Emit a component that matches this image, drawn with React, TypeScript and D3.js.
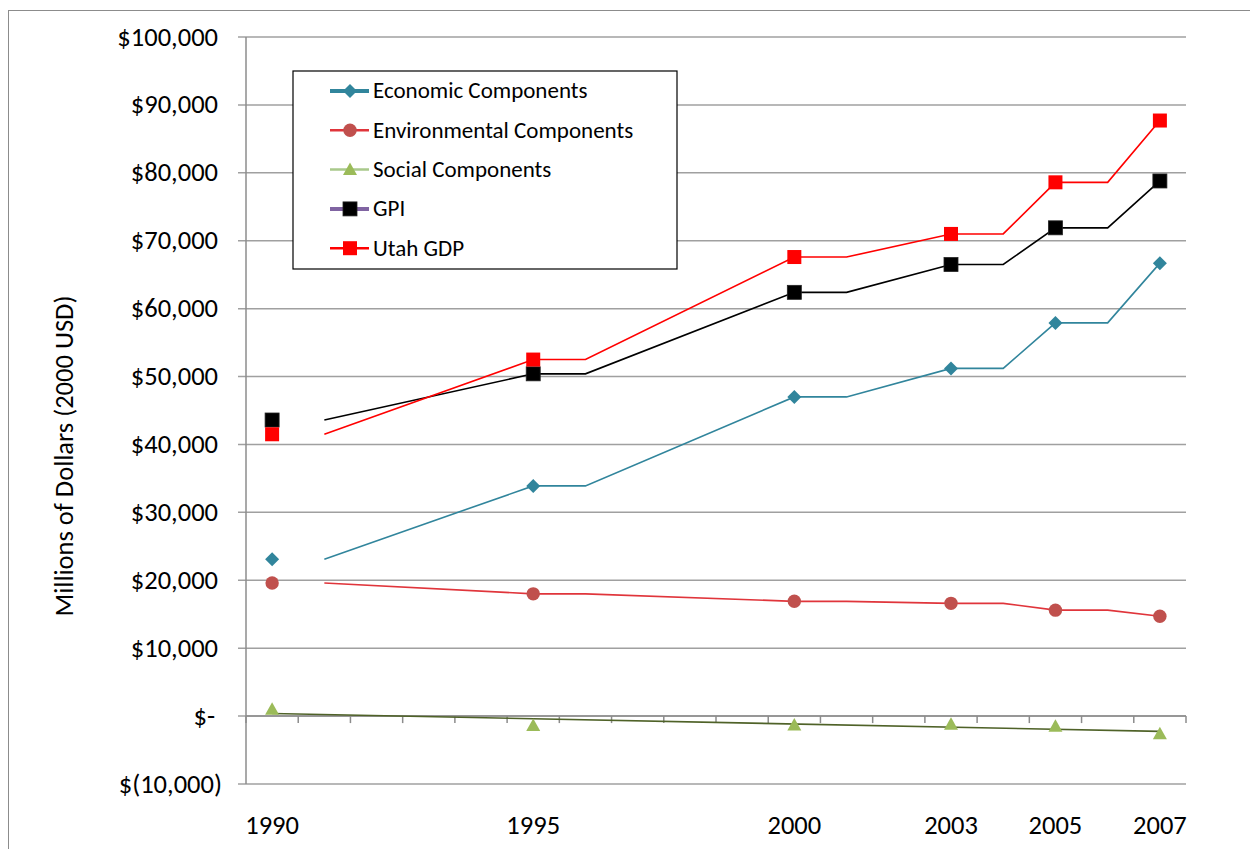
import React from "react";
import * as d3 from "d3";

// Category years on a date-style axis
const years = [1990, 1995, 2000, 2003, 2005, 2007];

// Series values, millions of dollars (2000 USD)
const economic = [23100, 33900, 47000, 51200, 57900, 66700];
const environmental = [19600, 18000, 16900, 16600, 15600, 14700];
const social = [1000, -1400, -1300, -1200, -1500, -2600];
const gpi = [43600, 50400, 62400, 66500, 71900, 78800];
const utahGdp = [41500, 52500, 67600, 71000, 78600, 87700];

const yTicks = [-10000, 0, 10000, 20000, 30000, 40000, 50000, 60000, 70000, 80000, 90000, 100000];

const legendItems = [
  { name: "Economic Components", line: "#31859C", lw: 4, marker: "diamond", fill: "#31859C" },
  { name: "Environmental Components", line: "#E0353B", lw: 2.5, marker: "circle", fill: "#C0504D" },
  { name: "Social Components", line: "#A9C98B", lw: 2.5, marker: "triangle", fill: "#9BBB59" },
  { name: "GPI", line: "#8064A2", lw: 4, marker: "square", fill: "#000000" },
  { name: "Utah GDP", line: "#FF0000", lw: 2.5, marker: "square", fill: "#FF0000" },
];

const plotSeries = [
  { values: economic, line: "#31859C", marker: "diamond", fill: "#31859C" },
  { values: environmental, line: "#E0353B", marker: "circle", fill: "#C0504D" },
  { values: gpi, line: "#000000", marker: "square", fill: "#000000" },
  { values: utahGdp, line: "#FF0000", marker: "square", fill: "#FF0000" },
];

const FONT = "Calibri, Carlito, Lato, 'Open Sans', sans-serif";

const W = 1250;
const H = 849;
const left = 246;
const right = 1186;
const top = 37;
const bottom = 784;

const x = d3.scaleLinear().domain([1989.5, 2007.5]).range([left, right]);
const y = d3.scaleLinear().domain([-10000, 100000]).range([bottom, top]);

function fmtDollar(v: number): string {
  if (v === 0) return "$-";
  const s = d3.format(",")(Math.abs(v));
  return v < 0 ? `$(${s})` : `$${s}`;
}

function Marker({ kind, cx, cy, fill }: { kind: string; cx: number; cy: number; fill: string }) {
  if (kind === "diamond") {
    const r = 7;
    return <path d={`M${cx},${cy - r}L${cx + r},${cy}L${cx},${cy + r}L${cx - r},${cy}Z`} fill={fill} />;
  }
  if (kind === "circle") return <circle cx={cx} cy={cy} r={6.7} fill={fill} />;
  if (kind === "triangle") {
    return <path d={`M${cx},${cy - 7}L${cx + 7},${cy + 5.5}L${cx - 7},${cy + 5.5}Z`} fill={fill} />;
  }
  return <rect x={cx - 7} y={cy - 7} width={14} height={14} fill={fill} stroke={fill === "#000000" ? "#222" : "none"} strokeWidth={0.8} />;
}

// Series line passes through each value and repeats it one year later
function laggedPoints(vals: number[]): [number, number][] {
  const pts: [number, number][] = [];
  vals.forEach((v, i) => {
    if (i > 0) pts.push([years[i], v]);
    if (i < vals.length - 1) pts.push([years[i] + 1, v]);
  });
  return pts;
}

// Least-squares trendline for the social series
function trend(vals: number[]): [number, number][] {
  const mx = d3.mean(years)!;
  const my = d3.mean(vals)!;
  let sxy = 0;
  let sxx = 0;
  years.forEach((yr, i) => {
    sxy += (yr - mx) * (vals[i] - my);
    sxx += (yr - mx) * (yr - mx);
  });
  const b = sxy / sxx;
  const a = my - b * mx;
  const x0 = years[0];
  const x1 = years[years.length - 1];
  return [
    [x0, a + b * x0],
    [x1, a + b * x1],
  ];
}

const lineGen = d3
  .line<[number, number]>()
  .x((d) => x(d[0]))
  .y((d) => y(d[1]));

export default function App() {
  const y0 = y(0);
  const boundaries = d3.range(1989.5, 2008, 1);
  return (
    <div style={{ position: "absolute", left: 0, top: 0 }}>
      <svg width={W} height={H} style={{ display: "block", background: "#fff" }}>
        <rect x={8.5} y={10.5} width={W} height={H} fill="#fff" stroke="#8c8c8c" strokeWidth={1} />

        {/* horizontal gridlines and y ticks */}
        {yTicks.map((t) => (
          <line key={t} x1={left - 8} x2={right} y1={y(t)} y2={y(t)} stroke="#a0a0a0" strokeWidth={1.5} />
        ))}
        <line x1={left} x2={left} y1={top} y2={bottom} stroke="#8c8c8c" strokeWidth={1.5} />

        {/* x axis at zero with year-boundary ticks */}
        <line x1={left} x2={right} y1={y0} y2={y0} stroke="#8c8c8c" strokeWidth={1.5} />
        {boundaries.map((b) => (
          <line key={b} x1={x(b)} x2={x(b)} y1={y0} y2={y0 + 7} stroke="#8c8c8c" strokeWidth={1.5} />
        ))}

        {/* y tick labels */}
        {yTicks.map((t) => (
          <text
            key={t}
            x={222}
            dx={t < 0 ? 0 : t === 0 ? -7 : -4}
            y={y(t) + 8.5}
            textAnchor="end"
            fontFamily={FONT}
            fontSize={26.5}
            fill="#000"
          >
            {fmtDollar(t)}
          </text>
        ))}

        {/* x tick labels */}
        {years.map((yr) => (
          <text key={yr} x={x(yr)} y={834} textAnchor="middle" fontFamily={FONT} fontSize={26.5} fill="#000">
            {yr}
          </text>
        ))}

        <text
          transform={`translate(73,456) rotate(-90)`}
          textAnchor="middle"
          fontFamily={FONT}
          fontSize={26.5}
          fill="#000"
        >
          Millions of Dollars (2000 USD)
        </text>

        {/* social trendline */}
        <path d={lineGen(trend(social))!} fill="none" stroke="#4F6228" strokeWidth={1.6} />

        {plotSeries.map((s, i) => (
          <path key={i} d={lineGen(laggedPoints(s.values))!} fill="none" stroke={s.line} strokeWidth={1.6} />
        ))}

        {plotSeries.map((s, i) =>
          s.values.map((v, j) => <Marker key={`${i}-${j}`} kind={s.marker} cx={x(years[j])} cy={y(v)} fill={s.fill} />)
        )}
        {social.map((v, j) => (
          <Marker key={`s-${j}`} kind="triangle" cx={x(years[j])} cy={y(v)} fill="#9BBB59" />
        ))}

        {/* legend */}
        <rect x={293} y={71} width={384} height={198} fill="#fff" stroke="#000" strokeWidth={1.2} />
        {legendItems.map((item, i) => {
          const ly = 91 + i * 39.3;
          return (
            <g key={item.name}>
              <line x1={330} x2={369} y1={ly} y2={ly} stroke={item.line} strokeWidth={item.lw} />
              <Marker kind={item.marker} cx={350} cy={ly} fill={item.fill} />
              <text x={373} y={ly + 7.4} fontFamily={FONT} fontSize={23} fill="#000">
                {item.name}
              </text>
            </g>
          );
        })}
      </svg>
    </div>
  );
}
